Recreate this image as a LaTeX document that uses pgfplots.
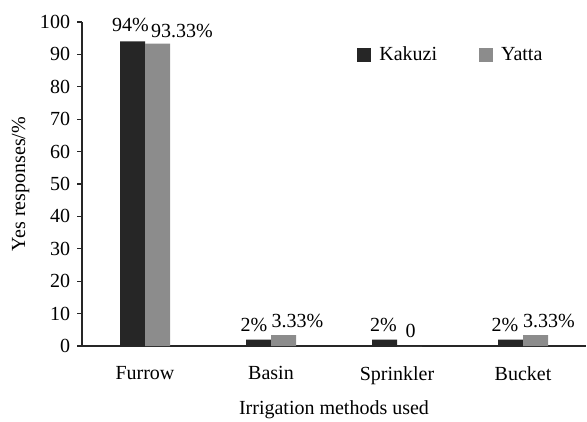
\documentclass[border=0pt]{standalone}
\usepackage{pgfplots}
\pgfplotsset{compat=1.18}
\usepackage{fontspec}
\setmainfont{Liberation Serif}
\definecolor{kak}{HTML}{262626}
\definecolor{yat}{HTML}{8C8C8C}
\newcommand\fs{\fontsize{12}{14}\selectfont}
\begin{document}
\fs
\begin{tikzpicture}
\useasboundingbox (-49.2pt,-45pt) rectangle (303pt,207.6pt);
\begin{axis}[
  at={(0,0)}, anchor=south west,
  scale only axis, width=302.4pt, height=194.4pt,
  ymin=0, ymax=100, ytick={0,10,...,100},
  xmin=-0.5, xmax=3.5, xtick={0,1,2,3},
  xticklabels={Furrow,Basin,Sprinkler,Bucket},
  enlargelimits=false,
  axis lines*=left,
  axis line style={line width=0.9pt, black!85},
  x tick style={draw=none},
  y tick style={line width=0.8pt, black!85},
  tick align=outside, major tick length=3pt,
  /pgf/number format/assume math mode=true,
  tick label style={font=\fs, text=black},
  xticklabel style={yshift=-5pt},
  ylabel={Yes responses/\%},
  xlabel={Irrigation methods used},
  ylabel style={at={(axis description cs:-0.122,0.5)}, anchor=center, font=\fs},
  xlabel style={at={(axis description cs:0.5,-0.196)}, anchor=center, font=\fs},
  ybar=0pt, bar width=15pt,
  legend columns=2,
  legend style={draw=none, fill=none, at={(axis description cs:0.535,0.898)}, anchor=west,
    font=\fs,
    /tikz/every odd column/.append style={column sep=3pt},
    /tikz/every even column/.append style={column sep=23pt}},
  legend image code/.code={\fill[#1] (0pt,-4.2pt) rectangle (8.4pt,4.2pt);},
  point meta=explicit symbolic,
  nodes near coords,
  visualization depends on={\thisrow{dx} \as \dx},
  visualization depends on={\thisrow{dy} \as \dy},
  nodes near coords style={xshift=\dx pt, yshift=\dy pt, font=\fs, text=black},
]
\addplot[fill=kak, draw=none] table[x=x, y=y, meta=lab] {
x y lab dx dy
0 94 94\% -1.2 1.6
1 2 2\% -2.7 0.5
2 2 2\% -0.6 0.5
3 2 2\% -3.3 0.5
};
\addplot[fill=yat, draw=none] table[x=x, y=y, meta=lab] {
x y lab dx dy
0 93.33 93.33\% 14.7 -0.8
1 3.33 3.33\% 8.4 0.5
2 0 0 0.6 0.5
3 3.33 3.33\% 8.1 0.5
};
\legend{Kakuzi, Yatta}
\end{axis}
\end{tikzpicture}
\end{document}
